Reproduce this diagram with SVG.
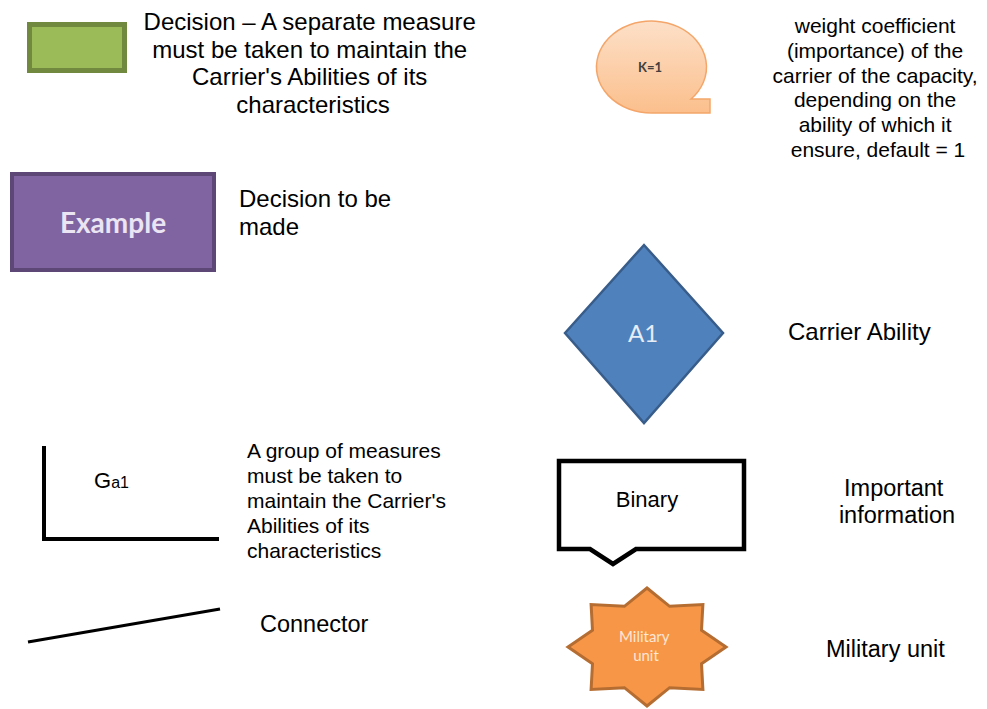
<svg xmlns="http://www.w3.org/2000/svg" width="987" height="709" viewBox="0 0 987 709">
  <defs>
    <linearGradient id="peach" x1="0" y1="0" x2="0" y2="1">
      <stop offset="0" stop-color="#fde0c8"/>
      <stop offset="1" stop-color="#fbbf8c"/>
    </linearGradient>
  </defs>
  <style>
    .lbl { font-family: "Liberation Sans", Arial, sans-serif; fill: #000; }
    .c { text-anchor: middle; }
    .cal { font-family: Lato, "Open Sans", sans-serif; text-anchor: middle; }
  </style>
  <rect width="987" height="709" fill="#fff"/>

  <g id="decision-separate">
    <rect x="29.5" y="24.5" width="95" height="46" fill="#9bbb59" stroke="#71893f" stroke-width="5"/>
    <text class="lbl c" font-size="24" x="313">
      <tspan x="313" y="30">Decision – A separate measure</tspan>
      <tspan x="313" y="58">must be taken to maintain the</tspan>
      <tspan x="313" y="85">Carrier's Abilities of its</tspan>
      <tspan x="313" y="113">characteristics</tspan>
    </text>
  </g>

  <g id="weight-coefficient">
    <path d="M 691,99 L 710,99 L 710,113 L 652,113 A 55 46 0 1 1 691,99 Z" fill="url(#peach)" stroke="#f4a66a" stroke-width="1.5"/>
    <text class="cal" font-size="13" font-weight="bold" fill="#404040" x="650" y="72">K=1</text>
    <text class="lbl c" font-size="21">
      <tspan x="878" y="33">weight coefficient</tspan>
      <tspan x="878" y="58">(importance) of the</tspan>
      <tspan x="878" y="83">carrier of the capacity,</tspan>
      <tspan x="878" y="107">depending on the</tspan>
      <tspan x="878" y="132">ability of which it</tspan>
      <tspan x="878" y="157">ensure, default = 1</tspan>
    </text>
  </g>

  <g id="decision-to-be-made">
    <rect x="12" y="174" width="202" height="96" fill="#8064a2" stroke="#5c4776" stroke-width="4"/>
    <text class="cal" font-size="28" font-weight="bold" fill="#ebe5f3" x="113" y="233">Example</text>
    <text class="lbl" font-size="24">
      <tspan x="239" y="207">Decision to be</tspan>
      <tspan x="239" y="235">made</tspan>
    </text>
  </g>

  <g id="carrier-ability">
    <polygon points="565,333 644,245 723,333 644,423" fill="#4f81bd" stroke="#385d8a" stroke-width="2.5"/>
    <text class="cal" font-size="24" fill="#e6edf7" x="643" y="342">A1</text>
    <text class="lbl" font-size="24" x="788" y="340">Carrier Ability</text>
  </g>

  <g id="group-of-measures">
    <path d="M 44,446 L 44,539 L 219,539" fill="none" stroke="#000" stroke-width="4"/>
    <text class="lbl" x="94" y="488"><tspan font-size="22">G</tspan><tspan font-size="16">a1</tspan></text>
    <text class="lbl" font-size="21">
      <tspan x="247" y="458">A group of measures</tspan>
      <tspan x="247" y="483">must be taken to</tspan>
      <tspan x="247" y="508">maintain the Carrier's</tspan>
      <tspan x="247" y="533">Abilities of its</tspan>
      <tspan x="247" y="558">characteristics</tspan>
    </text>
  </g>

  <g id="important-information">
    <path d="M 559,461 L 744,461 L 744,549 L 636,549 L 613,564 L 590,549 L 559,549 Z" fill="#fff" stroke="#000" stroke-width="4.5" stroke-linejoin="miter"/>
    <text class="lbl c" font-size="22" x="647" y="507">Binary</text>
    <text class="lbl c" font-size="23.5">
      <tspan x="897" y="496">Important</tspan>
      <tspan x="897" y="523">information</tspan>
    </text>
  </g>

  <g id="connectors">
    <line x1="28" y1="642" x2="220" y2="609" stroke="#000" stroke-width="3"/>
  </g>
  <g id="connector-label">
    <text class="lbl" font-size="23.5" x="260" y="632">Connector</text>
  </g>

  <g id="military-unit">
    <polygon points="647,588 669.6,606.3 702.9,604.6 701.5,630.2 726,647 701.5,663.8 702.9,689.4 669.6,687.7 647,706 624.4,687.7 591.1,689.4 592.5,663.8 568,647 592.5,630.2 591.1,604.6 624.4,606.3" fill="#f79646" stroke="#b66d31" stroke-width="3" stroke-linejoin="miter"/>
    <text class="cal" font-size="15" fill="#fde6d4">
      <tspan x="646" y="642">Military</tspan>
      <tspan x="646" y="661">unit</tspan>
    </text>
    <text class="lbl" font-size="23.5" x="826" y="657">Military unit</text>
  </g>
</svg>
